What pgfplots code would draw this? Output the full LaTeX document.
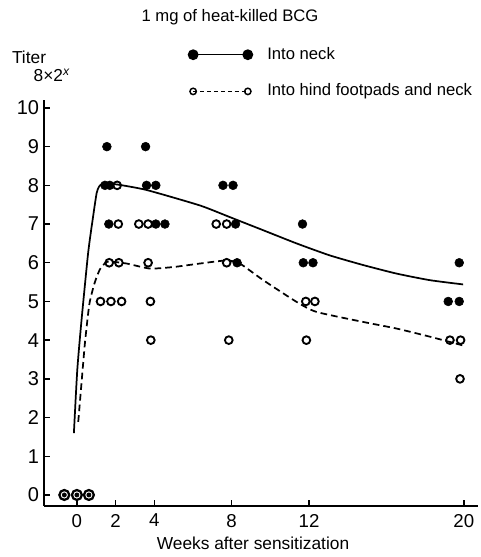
\documentclass[border=0pt]{standalone}
\usepackage{pgfplots}
\pgfplotsset{compat=1.18}
\usepackage{fontspec}
\setmainfont{Liberation Sans}
\pgfplotsset{endmark legend/.style={legend image code/.code={\draw[##1] plot coordinates {(0pt,0pt) (41pt,0pt)};}}}
\begin{document}
\begin{tikzpicture}
\path[use as bounding box] (-33pt,-38.4pt) rectangle (327pt,379.35pt);
\begin{axis}[
  scale only axis, width=325.5pt, height=304.2pt,
  xmin=-1.7, xmax=20.73, ymin=-0.28, ymax=10.2,
  axis lines=left, axis line style={-, line width=1.1pt},
  xtick={0,2,4,8,12,20}, ytick={0,1,...,10},
  tick align=inside, major tick length=4.5pt, tick style={line width=1pt, black},
  /pgf/number format/assume math mode=true,
  yticklabel style={inner sep=0pt, xshift=-3.5pt, font=\fontsize{15}{16}\selectfont},
  xticklabel style={inner sep=0pt, yshift=-6pt, font=\fontsize{14}{15}\selectfont},
  clip=false,
  legend style={draw=none, fill=none, inner sep=0pt, outer sep=0pt,
    at={(axis description cs:0.3326,1.131)}, anchor=north west,
    font=\fontsize{12.5}{15}\selectfont, row sep=16pt,
    nodes={inner sep=0pt, text height=9pt, text depth=2.5pt},
    /tikz/every odd column/.append style={column sep=11pt}},
  legend cell align=left,
]
% fitted curves
\addplot[black, line width=1.3pt, smooth, tension=0.35, forget plot] coordinates {
 (-0.155,1.60) (0.02,3.23) (0.24,4.52) (0.58,6.25) (0.81,7.1) (1.02,7.8)
 (1.15,7.97) (1.36,8.05) (2.1,8.02) (3.6,7.88)
 (6.36,7.48) (7.9,7.18) (9.63,6.84) (11.35,6.5) (13.07,6.19) (14.8,5.94)
 (16.52,5.72) (18.24,5.55) (19.96,5.44)};
\addplot[black, line width=1.3pt, dash pattern=on 5pt off 3pt, smooth, tension=0.35, forget plot] coordinates {
 (0.07,1.89) (0.24,2.9) (0.42,3.95) (0.65,4.95) (0.93,5.5) (1.19,5.83)
 (1.5,6.01) (1.75,6.03) (2.57,5.98) (3.77,5.85) (5.0,5.89) (6.36,5.98)
 (7.74,6.06) (8.42,5.98) (9.63,5.55) (11.35,4.99) (12.38,4.73) (14.8,4.47)
 (16.52,4.3) (18.24,4.09) (20.05,3.85)};
% into hind footpads and neck (open)
\addplot[only marks, mark=o, mark size=2.9pt, mark options={line width=1.4pt, fill=white, black}, forget plot] coordinates {
 (2.08,8)
 (2.14,7) (3.2,7) (3.68,7) (7.2,7) (7.74,7)
 (1.67,6) (2.17,6) (3.68,6) (7.74,6)
 (1.22,5) (1.76,5) (2.31,5) (3.8,5) (11.83,5) (12.3,5)
 (3.82,4) (7.85,4) (11.86,4) (19.28,4) (19.83,4)
 (19.8,3)};
% into neck (filled)
\addplot[only marks, mark=*, mark size=3.3pt, black, forget plot] coordinates {
 (1.55,9) (3.55,9)
 (1.45,8) (1.7,8) (3.6,8) (4.08,8) (7.55,8) (8.07,8)
 (1.65,7) (4.08,7) (4.55,7) (8.2,7) (11.66,7)
 (8.28,6) (11.7,6) (12.2,6) (19.76,6)
 (19.19,5) (19.76,5)};
% week 0 (both groups)
\addplot[only marks, mark=o, mark size=3.7pt, mark options={line width=1.7pt, fill=white, black}, forget plot] coordinates {(-0.65,0) (0,0) (0.62,0)};
\addplot[only marks, mark=*, mark size=1.6pt, black, forget plot] coordinates {(-0.65,0) (0,0) (0.62,0)};
% legend
\addlegendimage{black, line width=0.9pt, mark=*, mark size=3.6pt, endmark legend}
\addlegendentry{Into neck}
\addlegendimage{black, line width=0.9pt, dash pattern=on 3pt off 2.2pt, mark=o, mark size=2.4pt,
  mark options={solid, line width=1.1pt, fill=white}, endmark legend}
\addlegendentry{Into hind footpads and neck}
\end{axis}
\node[font=\fontsize{12.5}{15}\selectfont] at (139.5pt,366.6pt) {1 mg of heat-killed BCG};
\node[font=\fontsize{13}{15}\selectfont, anchor=west] at (-27.5pt,336.5pt) {Titer};
\node[font=\fontsize{13}{15}\selectfont, anchor=west] at (-11.25pt,323pt) {8×2\textsuperscript{\itshape x}};
\node[font=\fontsize{13}{15}\selectfont] at (156.75pt,-27.8pt) {Weeks after sensitization};
\end{tikzpicture}
\end{document}
